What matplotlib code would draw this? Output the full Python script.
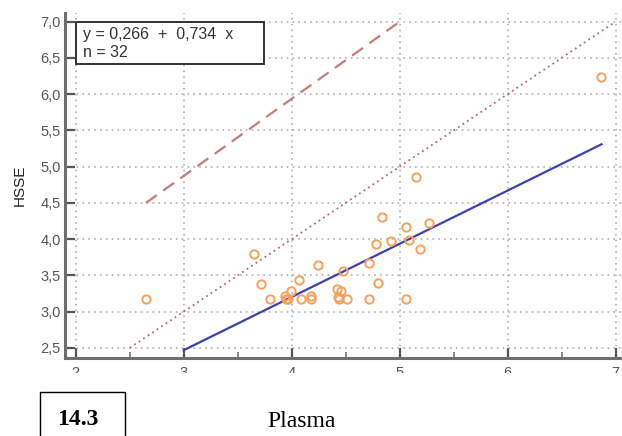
import numpy as np
import matplotlib
matplotlib.use("Agg")
import matplotlib.pyplot as plt
from matplotlib.patches import Rectangle

# Plasma (x) vs HSSE (y) values
plasma = [2.65, 3.65, 3.72, 3.80, 3.94, 3.95, 3.97, 3.99, 4.07, 4.09, 4.18,
          4.18, 4.24, 4.42, 4.46, 4.43, 4.44, 4.48, 4.51, 4.72, 4.72, 4.80,
          4.78, 4.84, 4.92, 5.06, 5.06, 5.09, 5.19, 5.27, 5.15, 6.87]
hsse = [3.17, 3.79, 3.38, 3.17, 3.21, 3.17, 3.17, 3.28, 3.43, 3.17, 3.21,
        3.17, 3.64, 3.31, 3.28, 3.20, 3.17, 3.56, 3.17, 3.17, 3.67, 3.39,
        3.93, 4.31, 3.97, 4.17, 3.17, 3.99, 3.87, 4.22, 4.86, 6.24]

intercept, slope = 0.266, 0.734
fit_x = [3.0, 6.87]
identity_x = [2.5, 7.0]
upper_x = [2.65, 5.0]
upper_y = [4.5, 7.0]

xticks = [2, 3, 4, 5, 6, 7]
yticks = [2.5, 3.0, 3.5, 4.0, 4.5, 5.0, 5.5, 6.0, 6.5, 7.0]

plt.rcParams['font.family'] = ['Liberation Sans', 'DejaVu Sans']

fig = plt.figure(figsize=(6.22, 4.36), dpi=100)
ax = fig.add_axes([0.1045, 0.1789, 0.8955, 0.7913])

ax.set_xlim(1.9, 7.06)
ax.set_ylim(2.36, 7.12)

# grid
ax.set_xticks(xticks)
ax.set_yticks(yticks)
ax.set_xticks([2.5, 3.5, 4.5, 5.5, 6.5], minor=True)
ax.grid(True, which='major', color='#b0b0b0', linestyle=(0, (1, 2.5)), linewidth=1.2)
ax.set_axisbelow(True)

# lines
fy = [intercept + slope * v for v in fit_x]
ax.plot(fit_x, fy, color='#3f3fae', linewidth=1.6, zorder=3)
ax.plot(identity_x, identity_x, color='#b06a6a', linestyle=(0, (1, 2)), linewidth=1.3, zorder=3)
ax.plot(upper_x, upper_y, color='#c47b7b', linestyle=(0, (6, 3.5)), linewidth=1.6, zorder=3)

# points
ax.plot(plasma, hsse, linestyle='none', marker='o', markersize=6,
        markerfacecolor='none', markeredgecolor='#f5a15c', markeredgewidth=1.4, zorder=4)

# equation box
ax.add_patch(Rectangle((2.0, 6.41), 1.74, 0.59, facecolor='white',
                       edgecolor='#333333', linewidth=1.4, zorder=5))
ax.text(2.065, 6.82, 'y = 0,266  +  0,734  x', fontsize=11.5, color='#333333',
        va='center', ha='left', zorder=6)
ax.text(2.065, 6.57, 'n = 32', fontsize=11.5, color='#333333',
        va='center', ha='left', zorder=6)

# spines / ticks
for s in ['top', 'right']:
    ax.spines[s].set_visible(False)
for s in ['left', 'bottom']:
    ax.spines[s].set_color('#6e6e6e')
    ax.spines[s].set_linewidth(2.2)
ax.tick_params(which='major', direction='in', length=7.5, width=1.6, color='#555555',
               labelsize=10.5, labelcolor='#555555')
ax.tick_params(axis='y', pad=3)
ax.tick_params(axis='x', pad=5.5)
ax.tick_params(which='minor', direction='in', length=4, width=1.2, color='#777777')
ax.set_xticklabels([str(v) for v in xticks])
ax.set_yticklabels([f'{v:.1f}'.replace('.', ',') for v in yticks])
ax.set_ylabel('HSSE', fontsize=11, color='#222222', labelpad=10)

# lower white band that hides the bottom of the x tick labels
fig.patches.append(Rectangle((0, 0), 1, 0.1445, transform=fig.transFigure,
                             facecolor='white', edgecolor='none', zorder=10))
fig.patches.append(Rectangle((40 / 622, -0.05), 85 / 622, (436 - 392) / 436 + 0.05,
                             transform=fig.transFigure, facecolor='white',
                             edgecolor='black', linewidth=1.0, zorder=11))
fig.text(78 / 622, 1 - 425 / 436, '14.3', fontsize=17, fontweight='bold',
         family=['Liberation Serif', 'DejaVu Serif'], ha='center', va='baseline', zorder=12)
fig.text(302 / 622, 1 - 427 / 436, 'Plasma', fontsize=17,
         family=['Liberation Serif', 'DejaVu Serif'], ha='center', va='baseline', zorder=12)

fig.savefig('out.png', dpi=100)
